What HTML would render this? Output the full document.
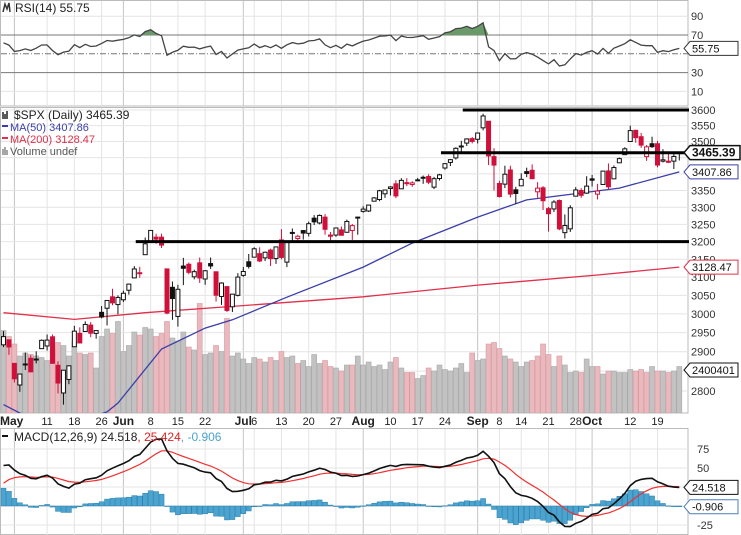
<!DOCTYPE html>
<html><head><meta charset="utf-8"><style>
html,body{margin:0;padding:0;background:#fff;}
svg{display:block;font-family:"Liberation Sans",sans-serif;}
</style></head><body>
<svg id="chart" xmlns="http://www.w3.org/2000/svg" width="741" height="535" viewBox="0 0 741 535">
<defs>
<clipPath id="cpPrice"><rect x="0" y="107" width="688" height="306"/></clipPath>
<clipPath id="cpRsi"><rect x="0" y="0" width="688" height="106"/></clipPath>
<clipPath id="cpMacd"><rect x="0" y="428" width="688" height="107"/></clipPath>
</defs>
<rect x="0" y="0" width="741" height="535" fill="#fff"/>
<g id="grid"></g>
<g id="vol" clip-path="url(#cpPrice)"></g>
<g id="ma" clip-path="url(#cpPrice)"></g>
<g id="candles" clip-path="url(#cpPrice)"></g>
<g id="rsi" clip-path="url(#cpRsi)"></g>
<g id="macd" clip-path="url(#cpMacd)"></g>
<g id="overlay"></g>
<g id="axes"></g>
</svg>
<script>
const closes=[2939.51,2912.43,2830.71,2842.74,2868.44,2848.42,2881.19,2929.80,2930.32,2870.12,2820.00,2852.50,2863.70,2953.91,2922.94,2971.61,2948.51,2955.45,2991.77,3036.13,3029.73,3044.31,
3055.73,3080.82,3122.87,3112.35,3193.93,3232.39,3207.18,3190.14,3002.10,3041.31,3066.59,3124.74,3113.49,3115.34,3097.74,3117.86,3131.29,3050.33,3083.76,3009.05,3053.24,3100.29,
3115.86,3130.01,3179.72,3145.32,3169.94,3152.05,3185.04,3155.22,3197.52,3226.56,3215.57,3224.73,3251.84,3257.30,3276.02,3235.66,3215.63,3239.41,3218.44,3258.44,3246.22,3271.12,
3294.61,3306.51,3327.77,3349.16,3351.28,3360.47,3333.69,3380.35,3373.43,3372.85,3381.99,3389.78,3374.85,3385.51,3397.16,3431.28,3443.62,3478.73,3484.55,3508.01,3500.31,
3526.65,3580.84,3455.06,3426.96,3331.84,3398.96,3339.19,3340.97,3383.54,3401.20,3385.49,3357.01,3319.47,3281.06,3315.57,3236.92,3246.59,3298.46,3351.60,3335.47,3363.00,
3380.80,3348.42,3408.60,3360.97,3419.44,3446.83,3477.14,3534.22,3511.93,3488.67,3483.34,3483.81,3426.92,3443.12,3435.56,3453.49,3465.39];
const opens=[2918,2931,2870,2815,2868,2883,2879,2908,2915,2939,2865,2795,2829,2913,2948,2953,2970,2948,3004,3015,3046,3025,
3038,3064,3098,3112,3163,3199,3213,3213,3123,3072,2993,3131,3136,3101,3140,3095,3138,3115,3047,3074,3019,3050,
3105,3143,3156,3166,3154,3176,3152,3205,3142,3225,3209,3232,3224,3268,3254,3271,3219,3219,3234,3227,3232,3270,
3288,3289,3318,3323,3340,3356,3370,3355,3372,3368,3380,3387,3392,3360,3386,3418,3435,3449,3486,3495,3509,
3507,3543,3564,3453,3371,3369,3412,3352,3364,3407,3411,3346,3358,3296,3295,3320,3226,3237,3333,3350,3342,
3385,3339,3368,3409,3385,3434,3459,3500,3535,3515,3453,3493,3493,3439,3439,3439,3464];
const highs=[2954,2931,2870,2844,2898,2891,2901,2932,2945,2945,2875,2852,2865,2968,2964,2980,2978,2956,3021,3037,3068,3050,
3063,3082,3131,3129,3212,3233,3223,3223,3123,3088,3079,3154,3141,3121,3155,3120,3155,3116,3086,3074,3054,3111,
3128,3165,3184,3184,3172,3180,3186,3236,3198,3238,3220,3233,3258,3277,3279,3280,3228,3241,3244,3264,3251,3272,
3303,3306,3330,3352,3352,3363,3381,3387,3387,3378,3388,3395,3399,3391,3400,3433,3445,3482,3502,3510,3514,
3528,3588,3564,3479,3379,3425,3425,3361,3402,3419,3429,3375,3363,3301,3321,3323,3279,3306,3360,3357,3393,
3397,3370,3409,3432,3426,3450,3482,3550,3537,3527,3489,3515,3502,3476,3465,3461,3466];
const lows=[2912,2892,2821,2798,2853,2847,2870,2908,2903,2869,2794,2766,2817,2913,2922,2953,2938,2934,2988,2969,3023,2999,
3032,3052,3098,3098,3163,3197,3194,3182,2999,2984,2966,3078,3108,3094,3084,3079,3123,3033,3024,3005,3005,3047,
3101,3124,3155,3142,3145,3131,3137,3150,3128,3200,3199,3206,3215,3248,3250,3220,3198,3214,3218,3227,3205,3220,
3284,3286,3317,3318,3328,3335,3327,3355,3363,3361,3379,3370,3369,3354,3380,3413,3424,3444,3467,3486,3494,
3494,3535,3427,3350,3329,3357,3329,3310,3364,3390,3384,3328,3292,3229,3286,3233,3209,3228,3333,3328,3340,
3362,3323,3368,3354,3385,3434,3458,3499,3496,3480,3440,3480,3420,3435,3433,3415,3441];
const volumes=[6.3,5.9,5.4,4.6,4.8,4.7,4.6,4.5,4.3,5.0,5.5,5.3,4.6,5.6,4.8,4.7,4.8,3.8,5.9,6.4,6.1,6.9,
4.9,5.3,6.2,6.0,6.5,6.4,5.9,6.1,6.9,5.8,5.6,6.2,5.2,5.0,8.1,4.7,4.8,5.3,4.9,7.1,4.6,4.8,
4.4,4.1,4.5,4.4,4.2,4.5,4.3,4.9,4.5,4.6,4.1,4.3,3.9,4.7,4.1,4.3,3.9,3.8,3.6,4.0,4.0,4.6,
4.0,4.2,3.9,4.0,3.7,4.2,4.5,3.8,3.5,3.5,3.1,3.3,3.8,3.6,4.0,3.7,3.6,3.8,4.1,3.5,4.8,
4.3,4.4,5.4,5.5,5.1,4.6,4.4,4.2,3.9,4.2,4.3,4.6,5.4,4.7,3.9,4.6,4.0,3.5,3.6,3.5,4.4,
3.9,3.9,3.4,3.6,3.6,3.5,3.5,3.7,3.6,3.7,3.5,3.9,3.6,3.6,3.5,3.6,3.9];
const ma50Idx=[0,3,10,16,19,21,29,37,42,52,66,75,87,96,113,124];
const ma50Val=[2766,2745,2720,2735,2748,2770,2907,2962,2984,3045,3128,3196,3271,3322,3357,3406];
const ma200Idx=[0,13,26,42,66,87,109,124];
const ma200Val=[3003,2985,3003,3020,3046,3078,3106,3128];
const tickIdx=[2,8,13,18,22,27,32,37,44,46,51,56,61,66,71,76,81,87,91,95,100,105,108,115,120];
const tickLabels=['May','11','18','26','Jun','8','15','22','Jul','6','13','20','27','Aug','10','17','24','Sep','8','14','21','28','Oct','12','19'];
const monthTicks=['May','Jun','Jul','Aug','Sep','Oct'];
const priceTicks=[3600,3550,3500,3350,3300,3250,3200,3150,3100,3050,3000,2950,2900,2800];
const priceGrid=[3600,3550,3500,3450,3400,3350,3300,3250,3200,3150,3100,3050,3000,2950,2900,2850,2800];
const rsiTicks=[90,70,30,10];
const macdTicks=[75,50,-25];
const macdGrid=[75,50,25,0,-25];
const hLevels=[3600,3465,3200];
const hLevelStart=[85,81,25];

const NS='http://www.w3.org/2000/svg';
const xOf=i=>3.5+i*5.45;
const yP=p=>110+1118*Math.log(3600/p);
const yR=v=>35+(70-v)*0.94;
const yM=v=>506-v*0.76;
const yV=v=>413-(v-0.8)*15;
function mk(parent,tag,attrs,text){const e=document.createElementNS(NS,tag);for(const k in attrs)e.setAttribute(k,attrs[k]);if(text!==undefined)e.textContent=text;document.getElementById(parent).appendChild(e);return e;}

let e;
e=mk('grid','rect',{x:0.5,y:0.5,width:687.5,height:105.5,fill:'#fff',stroke:'#bbb'});


e=mk('grid','rect',{x:0.5,y:107.5,width:687.5,height:305.5,fill:'#fff',stroke:'#bbb'});


e=mk('grid','rect',{x:0.5,y:428.5,width:687.5,height:106,fill:'#fff',stroke:'#bbb'});


for(let k=0;k<tickIdx.length;k++){
  const x=xOf(tickIdx[k]);const m=monthTicks.includes(tickLabels[k]);
  const c=m?'#c4c4c4':'#e4e4e4';
  for(const [a,b] of [[1,106],[108,413],[429,535]]){
    e=mk('grid','line',{x1:x,x2:x,y1:a,y2:b,stroke:c,'stroke-width':1});
    
    
  }
}
for(const p of priceGrid){
  e=mk('grid','line',{x1:1,x2:688,y1:yP(p),y2:yP(p),stroke:'#e4e4e4'});
  
  
}
for(const v of [90,10]){
  e=mk('grid','line',{x1:1,x2:688,y1:yR(v),y2:yR(v),stroke:'#e4e4e4'});
  
  
}
for(const v of [70,30]){
  e=mk('grid','line',{x1:1,x2:688,y1:yR(v),y2:yR(v),stroke:'#777','stroke-width':1});
  
  
}
e=mk('grid','line',{x1:1,x2:688,y1:yR(50),y2:yR(50),stroke:'#777','stroke-dasharray':'6,2,1,2'});


for(const v of macdGrid){
  e=mk('grid','line',{x1:1,x2:688,y1:yM(v),y2:yM(v),stroke:'#e4e4e4'});
  
  
}

for(let i=0;i<closes.length;i++){
  const down=i>0&&closes[i]<closes[i-1];
  const y=yV(volumes[i]);
  e=mk('vol','rect',{x:xOf(i)-2.5,y:y,width:5,height:413-y,fill:down?'#e9b9be':'#c2c2c2',stroke:down?'#d89aa1':'#a9a9a9','stroke-width':0.6});
  
  
}
function pathFrom(idx,val,fy,fx){return idx.map((d,k)=>(k?'L':'M')+fx(d).toFixed(1)+','+fy(val[k]).toFixed(1)).join(' ');}
e=mk('ma','path',{d:pathFrom(ma200Idx,ma200Val,yP,xOf),fill:'none',stroke:'#e0304a','stroke-width':1.3});


e=mk('ma','path',{d:pathFrom(ma50Idx,ma50Val,yP,xOf),fill:'none',stroke:'#3a3fa8','stroke-width':1.3});



for(let i=0;i<closes.length;i++){
  const o=opens[i],c=closes[i],h=highs[i],l=lows[i];
  const down=i>0&&c<closes[i-1];
  const col=down?'#d0103a':'#111';
  const x=xOf(i);
  e=mk('candles','line',{x1:x,x2:x,y1:yP(Math.max(h,o,c)),y2:yP(Math.min(l,o,c)),stroke:col,'stroke-width':1});
  
  
  const top=yP(Math.max(o,c)),bot=yP(Math.min(o,c));
  e=mk('candles','rect',{x:x-2,y:top,width:4,height:Math.max(1,bot-top),fill:c>=o?'#fff':col,stroke:col,'stroke-width':1});
  
  
}
for(let k=0;k<hLevels.length;k++){
  e=mk('overlay','line',{x1:xOf(hLevelStart[k])-4,x2:689,y1:yP(hLevels[k]),y2:yP(hLevels[k]),stroke:'#000','stroke-width':3});
  
  
}

let ag=28,al=21;const rsi=[];
for(let i=0;i<closes.length;i++){
  const ch=i?closes[i]-closes[i-1]:closes[0]-2863.39;
  ag=(ag*13+Math.max(ch,0))/14;al=(al*13+Math.max(-ch,0))/14;
  rsi.push(100-100/(1+ag/al));
}
let pts=rsi.map((v,i)=>xOf(i).toFixed(1)+','+yR(v).toFixed(1));
let fillPts=rsi.map((v,i)=>xOf(i).toFixed(1)+','+Math.min(yR(v),yR(70)).toFixed(1));
fillPts.push(xOf(rsi.length-1).toFixed(1)+','+yR(70),xOf(0).toFixed(1)+','+yR(70));
e=mk('rsi','polygon',{points:fillPts.join(' '),fill:'#6a9a6a',stroke:'none'});


e=mk('rsi','polyline',{points:pts.join(' '),fill:'none',stroke:'#444','stroke-width':1.3});



let e12=2840,e26=2791,sig=24;const macd=[],signal=[];
for(let i=0;i<closes.length;i++){
  e12=e12+(closes[i]-e12)*2/13;e26=e26+(closes[i]-e26)*2/27;
  const m=e12-e26;sig=sig+(m-sig)*0.2;macd.push(m);signal.push(sig);
}
for(let i=0;i<macd.length;i++){
  const h=macd[i]-signal[i];const y0=yM(0),y1=yM(h);
  e=mk('macd','rect',{x:xOf(i)-2.5,y:Math.min(y0,y1),width:5,height:Math.max(0.5,Math.abs(y1-y0)),fill:'#4ba3cf',stroke:'#2a7fae','stroke-width':0.5});
  
  
}
e=mk('macd','polyline',{points:signal.map((v,i)=>xOf(i).toFixed(1)+','+yM(v).toFixed(1)).join(' '),fill:'none',stroke:'#f03030','stroke-width':1.2});


e=mk('macd','polyline',{points:macd.map((v,i)=>xOf(i).toFixed(1)+','+yM(v).toFixed(1)).join(' '),fill:'none',stroke:'#111','stroke-width':1.6});



for(const p of priceTicks){
  e=mk('axes','text',{x:691,y:yP(p)+4,'font-size':11,fill:'#333'},String(p));
  
  
}
for(const v of rsiTicks){
  e=mk('axes','text',{x:691,y:yR(v)+4,'font-size':11,fill:'#333'},String(v));
  
  
}
for(const v of macdTicks){
  e=mk('axes','text',{x:697,y:yM(v)+4,'font-size':11,fill:'#333'},String(v));
  
  
}
for(let k=0;k<tickIdx.length;k++){
  const m=monthTicks.includes(tickLabels[k]);
  let x=xOf(tickIdx[k]);let anchor='middle';
  if(k===0){x=0;anchor='start';}
  e=mk('axes','text',{x:x,y:425,'font-size':m?12:11,'font-weight':m?'bold':'normal','text-anchor':anchor,fill:'#222'},tickLabels[k]);
  
  
}
function tag(y,text,stroke,bold,name){
  const w=bold?56:54,x=684;
  const g=mk('axes','g',{});
  
  
  const p=document.createElementNS(NS,'polygon');
  p.setAttribute('points',`${x},${y} ${x+6},${y-7} ${x+w},${y-7} ${x+w},${y+7} ${x+6},${y+7}`);
  p.setAttribute('fill','#fff');p.setAttribute('stroke',stroke);p.setAttribute('stroke-width',bold?1.5:1);
  g.appendChild(p);
  const t=document.createElementNS(NS,'text');
  t.setAttribute('x',x+8);t.setAttribute('y',y+4);t.setAttribute('font-size',bold?12:11);
  if(bold)t.setAttribute('font-weight','bold');t.setAttribute('fill','#111');t.textContent=text;
  g.appendChild(t);
}
tag(yR(rsi[rsi.length-1]),'55.75','#333',false,'rsi-value-tag');
tag(yP(closes[closes.length-1]),closes[closes.length-1].toFixed(2),'#111',true,'price-value-tag');
tag(yP(ma50Val[ma50Val.length-1]),'3407.86','#3a3fa8',false,'ma50-value-tag');
tag(yP(ma200Val[ma200Val.length-1]),'3128.47','#e0304a',false,'ma200-value-tag');
tag(370,'2400401','#111',false,'volume-value-tag');
tag(yM(macd[macd.length-1]),'24.518','#111',false,'macd-value-tag');
tag(yM(macd[macd.length-1]-signal[signal.length-1]),'-0.906','#4a7fc0',false,'macd-histogram-tag');

function txt(x,y,s,fill,size,name){e=mk('axes','text',{x:x,y:y,'font-size':size||12,fill:fill},s);return e;}
e=mk('axes','path',{d:'M3,12 L5,4 L7,9 L9,3 L10,12',fill:'none',stroke:'#333','stroke-width':1.5});


txt(15,12,'RSI(14) 55.75','#222',12,'rsi-legend');
e=mk('axes','path',{d:'M3,119 L3,112 M5,119 L5,114 M7,119 L7,111',fill:'none',stroke:'#222','stroke-width':1.5});


txt(14,119,'$SPX (Daily) 3465.39','#222',12,'price-legend');
e=mk('axes','rect',{x:2,y:125,width:6,height:2,fill:'#3a3fa8'});


txt(10,131,'MA(50) 3407.86','#3a3fa8',11,'ma50-legend');
e=mk('axes','rect',{x:2,y:137,width:6,height:2,fill:'#e0304a'});


txt(10,143,'MA(200) 3128.47','#e0304a',11,'ma200-legend');
e=mk('axes','path',{d:'M3,155 L3,149 M5,155 L5,147 M7,155 L7,150',fill:'none',stroke:'#888','stroke-width':1.5});


txt(10,155,'Volume undef','#555',11,'volume-legend');
e=mk('axes','rect',{x:2,y:435,width:6,height:2,fill:'#111'});


const lt=mk('axes','text',{x:14,y:441,'font-size':12,fill:'#222'});


lt.innerHTML='MACD(12,26,9) 24.518<tspan fill="#e02020">, 25.424</tspan><tspan fill="#4ba3cf">, -0.906</tspan>';
</script>
</body></html>
